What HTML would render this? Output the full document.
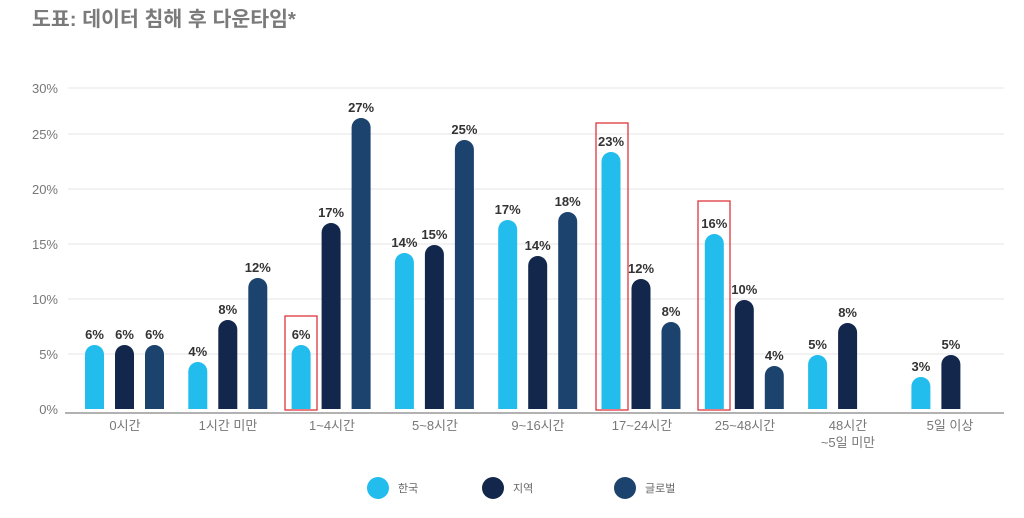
<!DOCTYPE html>
<html><head><meta charset="utf-8"><style>
body{margin:0;background:#fff;width:1024px;height:513px;overflow:hidden}
svg text{font-family:"Liberation Sans","Noto Sans CJK KR",sans-serif}
</style></head><body>
<svg width="1024" height="513" xmlns="http://www.w3.org/2000/svg">
<text x="32" y="26" font-size="20.5" font-weight="bold" fill="#7a7a7a">도표: 데이터 침해 후  다운타임*</text>
<g stroke="#e4e4e4" stroke-width="1">
<line x1="68" y1="88" x2="1004" y2="88"/><line x1="68" y1="134" x2="1004" y2="134"/>
<line x1="68" y1="189" x2="1004" y2="189"/><line x1="68" y1="244" x2="1004" y2="244"/>
<line x1="68" y1="299" x2="1004" y2="299"/><line x1="68" y1="354" x2="1004" y2="354"/>
</g>
<g font-size="13" fill="#777" text-anchor="end">
<text x="58" y="93">30%</text><text x="58" y="139">25%</text><text x="58" y="194">20%</text>
<text x="58" y="249">15%</text><text x="58" y="304">10%</text><text x="58" y="359">5%</text><text x="58" y="414">0%</text>
</g>
<line x1="65" y1="413" x2="1004" y2="413" stroke="#999" stroke-width="1.5"/>
<g id="bars"></g>
<g fill="none" stroke="#d9262b" stroke-width="1.2">
<rect x="285" y="316" width="32" height="94"/>
<rect x="596" y="123" width="32" height="287"/>
<rect x="698" y="201" width="32" height="209"/>
</g>
<g font-size="13" fill="#777" text-anchor="middle">
<text x="125" y="430">0시간</text><text x="228" y="430">1시간 미만</text><text x="332" y="430">1~4시간</text>
<text x="435" y="430">5~8시간</text><text x="538" y="430">9~16시간</text><text x="642" y="430">17~24시간</text>
<text x="745" y="430">25~48시간</text><text x="848" y="430">48시간</text><text x="848" y="447">~5일 미만</text>
<text x="950" y="430">5일 이상</text>
</g>
<circle cx="378" cy="488" r="11" fill="#22bdec"/><circle cx="493" cy="488" r="11" fill="#13264b"/><circle cx="625" cy="488" r="11" fill="#1c436e"/>
<g font-size="11" fill="#666"><text x="398" y="492">한국</text><text x="513" y="492">지역</text><text x="645" y="492">글로벌</text></g>
</svg>
<script>
var d=[[345,345,345,"6%","6%","6%"],[362,320,278,"4%","8%","12%"],[345,223,118,"6%","17%","27%"],[253,245,140,"14%","15%","25%"],[220,256,212,"17%","14%","18%"],[152,279,322,"23%","12%","8%"],[234,300,366,"16%","10%","4%"],[355,323,null,"5%","8%",""],[377,355,null,"3%","5%",""]];
var c=["#22bdec","#13264b","#1c436e"],s="";
d.forEach(function(g,i){var x0=85+i*103.3;for(var j=0;j<3;j++){var t=g[j];if(t==null)continue;var x=x0+j*30,w=19,r=9.5,b=409;
s+='<path d="M'+x+' '+b+'V'+(t+r)+'A'+r+' '+r+' 0 0 1 '+(x+w)+' '+(t+r)+'V'+b+'Z" fill="'+c[j]+'"/>';
s+='<text x="'+(x+w/2)+'" y="'+(t-6)+'" font-size="13" font-weight="bold" fill="#333" text-anchor="middle">'+g[j+3]+'</text>';}});
document.getElementById("bars").innerHTML=s;
</script>
</body></html>
